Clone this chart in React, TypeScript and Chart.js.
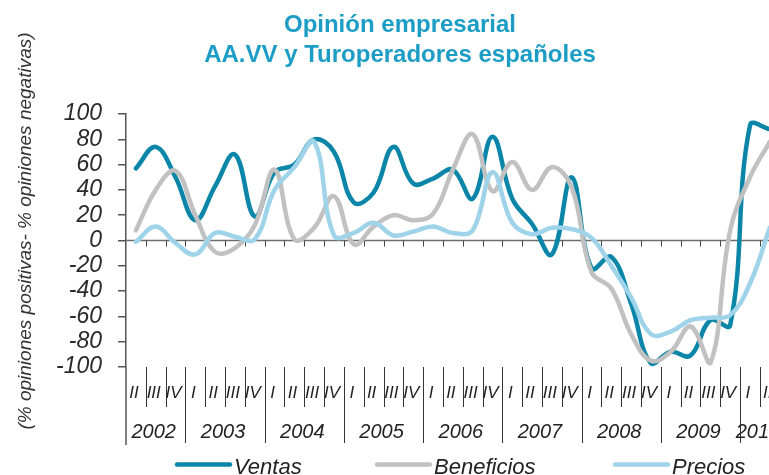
import React, { useEffect, useRef } from 'react';
import { Chart, registerables } from 'chart.js';

Chart.register(...registerables);

const FONT = '"Liberation Sans", Arial, Helvetica, sans-serif';

const titleLines = ['Opinión empresarial', 'AA.VV y Turoperadores españoles'];
const yAxisTitle = '(% opiniones positivas- % opiniones negativas)';

const quarterLabels = [
  'II', 'III', 'IV',
  'I', 'II', 'III', 'IV',
  'I', 'II', 'III', 'IV',
  'I', 'II', 'III', 'IV',
  'I', 'II', 'III', 'IV',
  'I', 'II', 'III', 'IV',
  'I', 'II', 'III', 'IV',
  'I', 'II', 'III', 'IV',
  'I', 'II',
];
const years = ['2002', '2003', '2004', '2005', '2006', '2007', '2008', '2009', '2010'];
const quartersPerYear = [3, 4, 4, 4, 4, 4, 4, 4, 2];

const ventas = [57, 74, 50, 16, 43, 68, 19, 54, 60, 80, 70, 30, 38, 74, 45, 49, 56, 33, 82, 33, 13, -11, 50, -22, -13, -50, -97, -88, -91, -63, -67, 91, 88];
const beneficios = [8, 40, 55, 20, -9, -6, 12, 56, 1, 10, 35, -3, 11, 20, 16, 21, 56, 84, 39, 62, 40, 58, 42, -25, -38, -74, -95, -88, -68, -97, 8, 50, 78];
const precios = [-1, 11, -2, -11, 6, 3, 1, 40, 58, 78, 4, 6, 14, 4, 7, 11, 6, 8, 54, 14, 5, 10, 9, 2, -20, -45, -74, -72, -63, -61, -59, -34, 10];

const seriesNames = ['Ventas', 'Beneficios', 'Precios'];
const seriesColors = ['#0b86a8', '#c1c1c1', '#9fd3ea'];

const X_MAX = 32.46;

const decorPlugin = {
  id: 'decor',
  beforeDatasetsDraw(chart: any) {
    const { ctx, chartArea: ca, scales } = chart;
    const x = scales.x;
    const y0 = scales.y.getPixelForValue(0);
    ctx.save();
    ctx.strokeStyle = '#6e6e6e';
    ctx.lineWidth = 1.5;
    ctx.beginPath();
    ctx.moveTo(ca.left, y0);
    ctx.lineTo(ca.right, y0);
    ctx.stroke();
    ctx.strokeStyle = '#444';
    ctx.lineWidth = 1;
    for (let i = 1; i <= quarterLabels.length; i++) {
      const px = Math.round(x.getPixelForValue(i)) + 0.5;
      ctx.beginPath();
      ctx.moveTo(px, y0);
      ctx.lineTo(px, y0 + 6);
      ctx.stroke();
    }
    ctx.restore();
  },
  afterDraw(chart: any) {
    const { ctx, chartArea: ca, scales } = chart;
    const x = scales.x;
    const top = ca.bottom;
    ctx.save();

    // Title
    ctx.fillStyle = '#1b9dc5';
    ctx.font = `bold 24px ${FONT}`;
    ctx.textAlign = 'center';
    ctx.textBaseline = 'alphabetic';
    ctx.fillText(titleLines[0], 400, 32);
    ctx.fillText(titleLines[1], 400, 62);

    // Y axis title
    ctx.save();
    ctx.translate(26, 231);
    ctx.rotate(-Math.PI / 2);
    ctx.fillStyle = '#333';
    ctx.font = `italic 19px ${FONT}`;
    ctx.textAlign = 'center';
    ctx.textBaseline = 'middle';
    ctx.fillText(yAxisTitle, 0, 0);
    ctx.restore();

    // Axis extension down through the category table
    ctx.strokeStyle = '#555';
    ctx.lineWidth = 1.5;
    ctx.beginPath();
    ctx.moveTo(ca.left, top);
    ctx.lineTo(ca.left, 445);
    ctx.stroke();

    // Separators
    const yearBounds = new Set<number>();
    let acc = 0;
    quartersPerYear.forEach((n) => {
      acc += n;
      yearBounds.add(acc);
    });
    ctx.strokeStyle = '#333';
    ctx.lineWidth = 1;
    for (let i = 1; i <= quarterLabels.length; i++) {
      const px = Math.round(x.getPixelForValue(i)) + 0.5;
      ctx.beginPath();
      ctx.moveTo(px, top);
      ctx.lineTo(px, yearBounds.has(i) ? 443 : 407);
      ctx.stroke();
    }

    // Quarter labels
    ctx.fillStyle = '#222';
    ctx.textAlign = 'center';
    ctx.textBaseline = 'middle';
    ctx.font = `italic 17px ${FONT}`;
    quarterLabels.forEach((l, i) => {
      ctx.fillText(l, x.getPixelForValue(i + 0.5) - 2, 393);
    });

    // Year labels
    ctx.font = `italic 20px ${FONT}`;
    let start = 0;
    years.forEach((yr, k) => {
      const n = quartersPerYear[k];
      const cx = (x.getPixelForValue(start) + x.getPixelForValue(start + n)) / 2;
      ctx.fillText(yr, cx - 2, 432);
      start += n;
    });

    // Legend
    const legendLineX = [177, 377, 615];
    ctx.font = `italic 22px ${FONT}`;
    ctx.textAlign = 'left';
    ctx.textBaseline = 'alphabetic';
    seriesNames.forEach((name, k) => {
      ctx.strokeStyle = seriesColors[k];
      ctx.lineWidth = 4.5;
      ctx.lineCap = 'round';
      ctx.beginPath();
      ctx.moveTo(legendLineX[k], 464.5);
      ctx.lineTo(legendLineX[k] + 53, 464.5);
      ctx.stroke();
      ctx.fillStyle = '#222';
      ctx.fillText(name, legendLineX[k] + 57, 474);
    });

    ctx.restore();
  },
};

export default function App() {
  const ref = useRef<HTMLCanvasElement>(null);

  useEffect(() => {
    if (!ref.current) return;
    const toPoints = (arr: number[]) => arr.map((v, i) => ({ x: i + 0.5, y: v }));
    const seriesData = [ventas, beneficios, precios];
    const chart = new Chart(ref.current, {
      type: 'line',
      data: {
        datasets: seriesNames.map((name, k) => ({
          label: name,
          data: toPoints(seriesData[k]),
          borderColor: seriesColors[k],
          backgroundColor: seriesColors[k],
          borderWidth: 4.5,
          pointRadius: 0,
          tension: 0.4,
          fill: false,
          order: 3 - k,
          borderCapStyle: 'round',
          borderJoinStyle: 'round',
        })),
      },
      options: {
        responsive: false,
        animation: false,
        layout: { padding: { top: 114, bottom: 108, left: 0, right: 0 } },
        plugins: {
          legend: { display: false },
          tooltip: { enabled: false },
          title: { display: false },
        },
        scales: {
          x: { type: 'linear', min: 0, max: X_MAX, display: false },
          y: {
            min: -100,
            max: 100,
            afterFit: (scale: any) => {
              scale.width = 126;
            },
            ticks: {
              stepSize: 20,
              autoSkip: false,
              color: '#2a2a2a',
              padding: 16,
              font: { family: FONT, size: 23, style: 'italic' },
            },
            grid: {
              drawOnChartArea: false,
              drawTicks: true,
              tickLength: 8,
              color: '#555',
              lineWidth: 1.5,
            },
            border: { display: true, color: '#555', width: 1.5 },
          },
        },
      },
      plugins: [decorPlugin],
    } as any);
    return () => chart.destroy();
  }, []);

  return (
    <div
      style={{
        position: 'fixed',
        left: 0,
        top: 0,
        width: 769,
        height: 475,
        overflow: 'hidden',
        background: '#ffffff',
      }}
    >
      <canvas ref={ref} width={769} height={475} style={{ display: 'block' }} />
    </div>
  );
}
